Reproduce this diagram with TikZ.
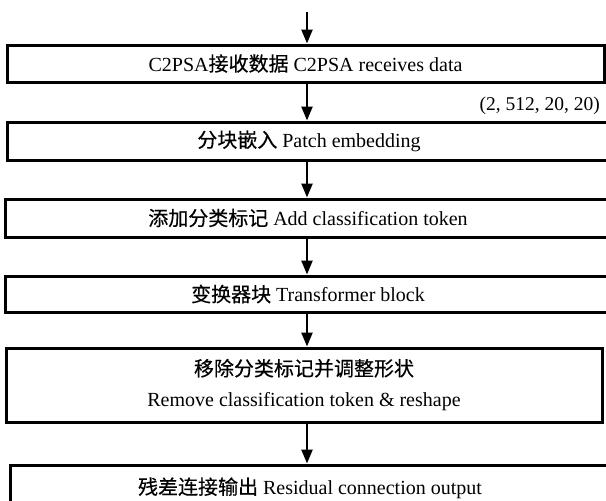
\documentclass[tikz,border=0pt]{standalone}
\usepackage{fontspec}
\setmainfont{Liberation Serif}
\newfontfamily\cjkfont[FakeBold=0.4,Scale=1.0]{Noto Sans CJK SC}
\newcommand{\zh}[1]{{\cjkfont #1}}
\usetikzlibrary{arrows.meta}
\begin{document}
\begin{tikzpicture}[x=1pt,y=-1pt,
  box/.style={draw=black,line width=3pt,inner sep=0pt,font=\fontsize{20}{31}\selectfont,align=center},
  conn/.style={line width=2.4pt,-{Triangle[length=14pt,width=11pt]}},
  lbl/.style={font=\fontsize{19.5}{23}\selectfont,inner sep=0pt}]
\useasboundingbox (0,0) rectangle (606,501);
\clip (0,0) rectangle (606,501);
\coordinate (start) at (307,12);
\node[box,minimum width=597pt,minimum height=37pt] (b1) at (305.5,63.5) {C2PSA\zh{接收数据} C2PSA receives data};
\node[box,minimum width=604pt,minimum height=38pt] (b2) at (309,141) {\zh{分块嵌入} Patch embedding};
\node[box,minimum width=606pt,minimum height=38pt] (b3) at (308,218) {\zh{添加分类标记} Add classification token};
\node[box,minimum width=606pt,minimum height=36pt] (b4) at (308,294) {\zh{变换器块} Transformer block};
\node[box,minimum width=596pt,minimum height=74pt] (b5) at (304,385) {\zh{移除分类标记并调整形状}\\Remove classification token \& reshape};
\node[box,minimum width=600pt,minimum height=46pt] (b6) at (310,488) {\zh{残差连接输出} Residual connection output};
\node[lbl,anchor=east] (shape) at (600,106) {(2, 512, 20, 20)};
\draw[conn] (start) -- (b1.north -| start);
\draw[conn] (b1.south -| start) -- (b2.north -| start);
\draw[conn] (b2.south -| start) -- (b3.north -| start);
\draw[conn] (b3.south -| start) -- (b4.north -| start);
\draw[conn] (b4.south -| start) -- (b5.north -| start);
\draw[conn] (b5.south -| start) -- (b6.north -| start);
\end{tikzpicture}
\end{document}
